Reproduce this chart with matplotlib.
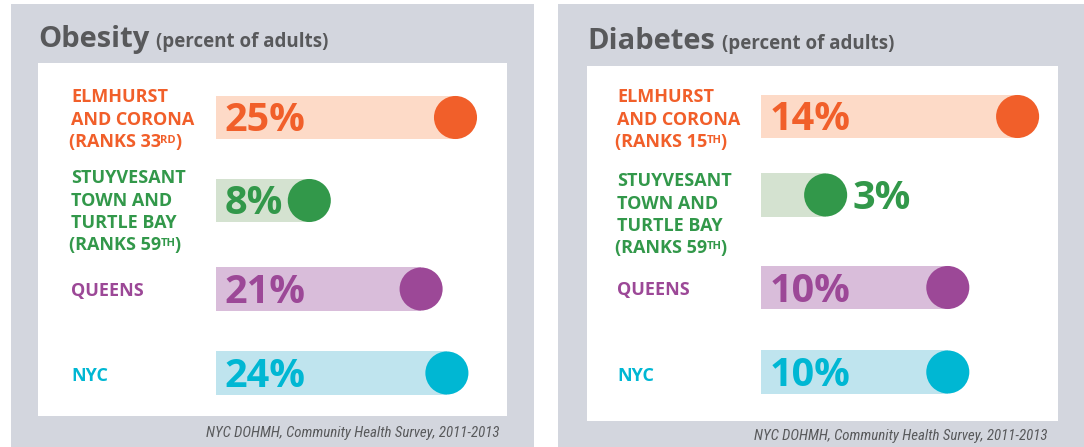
import matplotlib
matplotlib.use("Agg")
import matplotlib.pyplot as plt
from matplotlib import font_manager
from matplotlib.patches import Rectangle

# --- data -------------------------------------------------------------
ROW_LINES = [
    ["ELMHURST", "AND CORONA"],
    ["STUYVESANT", "TOWN AND", "TURTLE BAY"],
    ["QUEENS"],
    ["NYC"],
]
OBESITY = [25, 8, 21, 24]
OBESITY_RANKS = [33, 59, None, None]
DIABETES = [14, 3, 10, 10]
DIABETES_RANKS = [15, 59, None, None]
SOURCE = "NYC DOHMH, Community Health Survey, 2011-2013"

DARK = ["#f15f2a", "#32984a", "#9c4897", "#00b7d3"]
LIGHT = ["#fddac7", "#d4e2d0", "#d9bdda", "#bfe4ee"]
PANEL_BG = "#d3d6de"
TEXT_GREY = "#58595b"

W, H = 1084, 447
FONT = ["Open Sans", "DejaVu Sans"]
LINE_PITCH = 22.4
CAP = 13.5
LABEL_SIZE = 13

# a condensed face for the source line if one is installed
_names = {f.name for f in font_manager.fontManager.ttflist}
NARROW = ["Roboto", "DejaVu Sans"]
for cand in ["Liberation Sans Narrow", "DejaVu Sans Condensed",
             "Roboto Condensed", "Open Sans Condensed"]:
    if cand in _names:
        NARROW = [cand, "DejaVu Sans"]
        break

# panel layout in pixels (x0, y0, x1, y1)
PANELS = [
    dict(title="Obesity", values=OBESITY, ranks=OBESITY_RANKS,
         grey=(11, 4, 534, 447), white=(38, 63, 507, 416),
         zero_px=240.5, px_per_pct=8.6, bar_px=216,
         rows=[117.5, 200.5, 289, 373], label_y=[118, 210, 289, 374],
         label_x=71, title_base=47, source_base=437, source_x=499),
    dict(title="Diabetes", values=DIABETES, ranks=DIABETES_RANKS,
         grey=(558, 4, 1084, 447), white=(587, 66, 1058, 421),
         zero_px=773.3, px_per_pct=17.45, bar_px=761,
         rows=[116.5, 195, 287.5, 372], label_y=[118, 213, 288, 374],
         label_x=617, title_base=49, source_base=440, source_x=1048),
]
SOURCE_WIDTH = 292


def suffix(n):
    if 10 <= n % 100 <= 20:
        return "TH"
    return {1: "ST", 2: "ND", 3: "RD"}.get(n % 10, "TH")


def draw_label(bg, x, yc, lines, rank, color):
    n = len(lines) + (1 if rank else 0)
    top = yc - (n - 1) / 2 * LINE_PITCH
    kw = dict(color=color, fontsize=LABEL_SIZE, fontweight="bold",
              family=FONT, va="baseline", ha="left")
    for i, line in enumerate(lines):
        bg.text(x, top + i * LINE_PITCH + CAP / 2, line, **kw)
    if rank:
        base = bg.text(x - 2, top + len(lines) * LINE_PITCH + CAP / 2,
                       f"(RANKS {rank}", **kw)
        sup = bg.annotate(suffix(rank), xy=(1, 1), xycoords=base,
                          xytext=(-0.5, -1.5), textcoords="offset points",
                          color=color, fontsize=8, fontweight="bold",
                          family=FONT, va="top", ha="left")
        bg.annotate(")", xy=(1, 0), xycoords=(sup, base),
                    xytext=(-0.5, 0), textcoords="offset points",
                    color=color, fontsize=LABEL_SIZE, fontweight="bold",
                    family=FONT, va="bottom", ha="left")


fig = plt.figure(figsize=(W / 100, H / 100), dpi=100)
bg = fig.add_axes([0, 0, 1, 1])
bg.set_xlim(0, W)
bg.set_ylim(H, 0)
bg.axis("off")
renderer = fig.canvas.get_renderer()

for p in PANELS:
    gx0, gy0, gx1, gy1 = p["grey"]
    wx0, wy0, wx1, wy1 = p["white"]
    bg.add_patch(Rectangle((gx0, gy0), gx1 - gx0, gy1 - gy0,
                           color=PANEL_BG, lw=0))
    bg.add_patch(Rectangle((wx0, wy0), wx1 - wx0, wy1 - wy0,
                           color="white", lw=0))

    # title + subtitle
    t = bg.text(wx0, p["title_base"], p["title"], color=TEXT_GREY,
                fontsize=21, fontweight="bold", family=FONT, va="baseline")
    bg.annotate("(percent of adults)", xy=(1, p["title_base"]),
                xycoords=(t, "data"), xytext=(5, 0),
                textcoords="offset points", color=TEXT_GREY, fontsize=13.5,
                fontweight="bold", family=FONT, va="baseline")

    src = bg.text(p["source_x"], p["source_base"], SOURCE, color=TEXT_GREY,
                  fontsize=12, style="italic", family=NARROW, ha="right",
                  va="baseline")
    w = src.get_window_extent(renderer).width
    src.set_fontsize(12 * SOURCE_WIDTH / w)

    for i, lines in enumerate(ROW_LINES):
        draw_label(bg, p["label_x"], p["label_y"][i], lines, p["ranks"][i],
                   DARK[i])

    # bar axes: x in percent, y in pixel rows
    ax = fig.add_axes([wx0 / W, 1 - wy1 / H, (wx1 - wx0) / W, (wy1 - wy0) / H])
    ax.set_xlim((wx0 - p["zero_px"]) / p["px_per_pct"],
                (wx1 - p["zero_px"]) / p["px_per_pct"])
    ax.set_ylim(wy1, wy0)
    ax.axis("off")
    start = (p["bar_px"] - p["zero_px"]) / p["px_per_pct"]

    vals = p["values"]
    rows = p["rows"]
    ax.barh(rows, [v - start for v in vals], left=start, height=43.5,
            color=LIGHT, lw=0)
    ax.scatter(vals, rows, s=31 ** 2, c=DARK, lw=0, zorder=3)
    for v, y, c in zip(vals, rows, DARK):
        if v < 5:
            xy, off = (v, y + 14), 19
        else:
            xy, off = (start, y + 14), 6
        ax.annotate(f"{v}%", xy=xy, xytext=(off, 0),
                    textcoords="offset points", color=c, fontsize=28.5,
                    fontweight="bold", family=FONT, va="baseline", zorder=4)

fig.savefig("out.png", dpi=100)
